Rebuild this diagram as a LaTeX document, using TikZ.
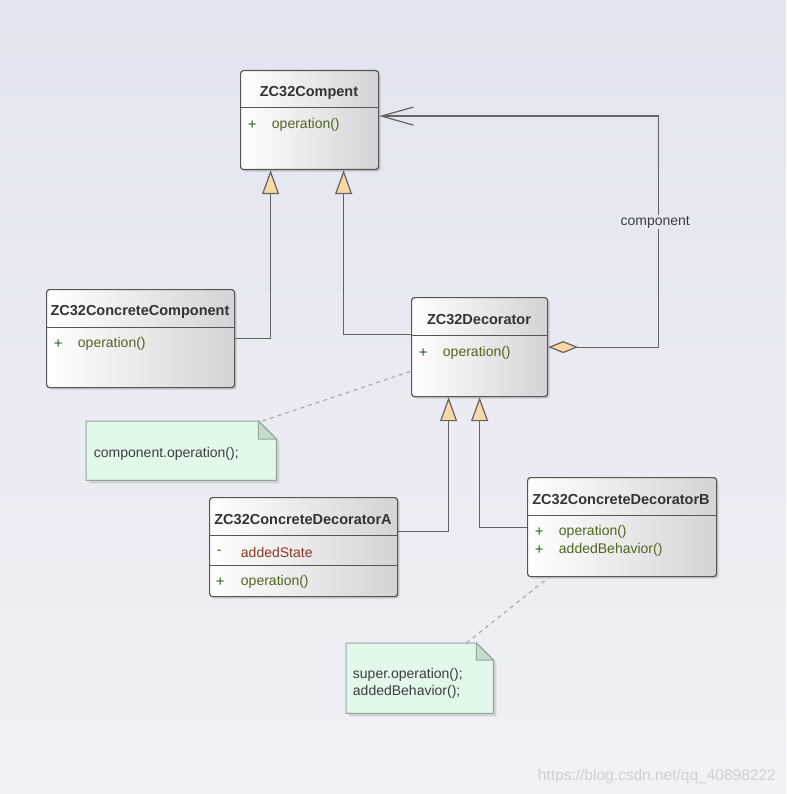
\documentclass[tikz,border=0pt]{standalone}
\usepackage{fontspec}
\setmainfont{Liberation Sans}
\usetikzlibrary{calc,arrows.meta,shadows}
\definecolor{bgtop}{RGB}{226,228,239}
\definecolor{bgbot}{RGB}{241,241,246}
\definecolor{bgmid}{RGB}{231,233,242}
\definecolor{boxline}{RGB}{85,85,85}
\definecolor{boxgray}{RGB}{212,212,214}
\definecolor{linegray}{RGB}{100,100,100}
\definecolor{tipfill}{RGB}{249,216,166}
\definecolor{notefill}{RGB}{226,248,232}
\definecolor{foldfill}{RGB}{196,220,204}
\definecolor{noteline}{RGB}{150,165,155}
\definecolor{titletext}{RGB}{51,51,51}
\definecolor{vistext}{RGB}{40,100,40}
\definecolor{optext}{RGB}{80,100,30}
\definecolor{attrtext}{RGB}{140,55,35}
\definecolor{notetext}{RGB}{60,60,66}
\definecolor{marktext}{RGB}{206,208,216}

\begin{document}
\begin{tikzpicture}[x=1pt,y=1pt,yscale=-1,xscale=1,
  classbox/.style={draw=boxline,line width=1.2pt,rounded corners=3pt,left color=white,right color=boxgray,anchor=north west,inner sep=0pt,drop shadow={shadow xshift=2pt,shadow yshift=-2pt,opacity=0.3}},
  sepline/.style={draw=boxline,line width=1pt},
  ctitle/.style={text=titletext,font=\fontsize{14.5}{17}\selectfont\bfseries,inner sep=0.75pt},
  cvis/.style={anchor=west,text=vistext,font=\fontsize{15}{17}\selectfont,inner sep=0.75pt},
  cop/.style={anchor=west,text=optext,font=\fontsize{14}{17}\selectfont,inner sep=0.75pt},
  cattr/.style={anchor=west,text=attrtext,font=\fontsize{14}{17}\selectfont,inner sep=0.75pt},
  noteframe/.style={anchor=north west,inner sep=0pt},
  notebody/.style={fill=notefill,draw=noteline,line width=1pt,drop shadow={shadow xshift=3pt,shadow yshift=-3pt,opacity=0.25}},
  notefold/.style={fill=foldfill,draw=noteline,line width=1pt},
  ntext/.style={anchor=west,align=left,text=notetext,font=\fontsize{14}{17}\selectfont,inner sep=0.75pt},
  notelink/.style={draw=gray!65,line width=1.2pt,dash pattern=on 4pt off 4pt},
  gen/.style={draw=linegray,line width=1.2pt,-{Triangle[length=24pt,width=17pt,fill=tipfill]}},
  agg/.style={draw=linegray,line width=1.2pt,{Diamond[length=30pt,width=12pt,fill=tipfill]}-{Straight Barb[length=32pt,width=18pt]}},
  rolelabel/.style={fill=bgmid,text=notetext,font=\fontsize{14}{17}\selectfont,inner sep=1pt,xshift=-3pt}]
%background
\shade[top color=bgtop,bottom color=bgbot] (0,0) rectangle (786,794);
\path[use as bounding box] (0,0) rectangle (786,794);

%Class [ZC32Compent]
\node[classbox,minimum width=138pt,minimum height=99pt] (comp) at (240,70) {};
\draw[sepline] ($(comp.north west)+(0,38)$) -- ($(comp.north east)+(0,38)$);
%Class [ZC32ConcreteComponent]
\node[classbox,minimum width=188pt,minimum height=98pt] (ccomp) at (46,289) {};
\draw[sepline] ($(ccomp.north west)+(0,38)$) -- ($(ccomp.north east)+(0,38)$);
%Class [ZC32Decorator]
\node[classbox,minimum width=136pt,minimum height=99pt] (dec) at (411,297) {};
\draw[sepline] ($(dec.north west)+(0,38)$) -- ($(dec.north east)+(0,38)$);
%Class [ZC32ConcreteDecoratorA]
\node[classbox,minimum width=188pt,minimum height=99pt] (decA) at (209,497) {};
\draw[sepline] ($(decA.north west)+(0,38)$) -- ($(decA.north east)+(0,38)$);
\draw[sepline] ($(decA.north west)+(0,68)$) -- ($(decA.north east)+(0,68)$);
%Class [ZC32ConcreteDecoratorB]
\node[classbox,minimum width=189pt,minimum height=99pt] (decB) at (527,477) {};
\draw[sepline] ($(decB.north west)+(0,38)$) -- ($(decB.north east)+(0,38)$);

%Note [component.operation]
\node[noteframe,minimum width=190pt,minimum height=59pt] (noteA) at (86,421) {};
\draw[notebody] (noteA.north west) -- ($(noteA.north east)+(-18,0)$) -- ($(noteA.north east)+(0,18)$) -- (noteA.south east) -- (noteA.south west) -- cycle;
\draw[notefold] ($(noteA.north east)+(-18,0)$) -- ($(noteA.north east)+(-18,18)$) -- ($(noteA.north east)+(0,18)$) -- cycle;
%Note [super.operation]
\node[noteframe,minimum width=147pt,minimum height=70pt] (noteB) at (346,643) {};
\draw[notebody] (noteB.north west) -- ($(noteB.north east)+(-17,0)$) -- ($(noteB.north east)+(0,17)$) -- (noteB.south east) -- (noteB.south west) -- cycle;
\draw[notefold] ($(noteB.north east)+(-17,0)$) -- ($(noteB.north east)+(-17,17)$) -- ($(noteB.north east)+(0,17)$) -- cycle;

%Generalization
\draw[gen] (ccomp.east) -| ($(comp.south)+(-39,0)$);
\draw[gen] ($(dec.west)+(0,-13)$) -| ($(comp.south)+(34,0)$);
\draw[gen] ($(decA.east)+(0,-16)$) -| ($(dec.south)+(-31,0)$);
\draw[gen] (decB.west) -| (dec.south);
%Aggregation
\draw[agg] (dec.east) -- ++(110,0) |- node[pos=0.27,rolelabel] (role) {component} ($(comp.east)+(0,-4)$);
%Note links
\draw[notelink] ($(noteA.north east)+(-14,0)$) -- ($(dec.south west)+(0,-26)$);
\draw[notelink] ($(noteB.north east)+(-27,0)$) -- ($(decB.south west)+(22,0)$);

% Text Node
\draw (309,93) node[ctitle] (compname) {ZC32Compent};
% Text Node
\draw (247,125) node[cvis] (compvis) {+};
% Text Node
\draw (271,125) node[cop] (compop) {operation()};
% Text Node
\draw (140,312) node[ctitle] (ccompname) {ZC32ConcreteComponent};
% Text Node
\draw (53,344) node[cvis] (ccompvis) {+};
% Text Node
\draw (77,344) node[cop] (ccompop) {operation()};
% Text Node
\draw (479,320) node[ctitle] (decname) {ZC32Decorator};
% Text Node
\draw (418,353) node[cvis] (decvis) {+};
% Text Node
\draw (442,353) node[cop] (decop) {operation()};
% Text Node
\draw (303,520) node[ctitle] (decAname) {ZC32ConcreteDecoratorA};
% Text Node
\draw (216,552) node[cattr] (decAvisa) {-};
% Text Node
\draw (240,552) node[cattr] (decAattr) {addedState};
% Text Node
\draw (215,582) node[cvis] (decAvis) {+};
% Text Node
\draw (240,582) node[cop] (decAop) {operation()};
% Text Node
\draw (621,500) node[ctitle] (decBname) {ZC32ConcreteDecoratorB};
% Text Node
\draw (534,532) node[cvis] (decBvis) {+};
% Text Node
\draw (558,532) node[cop] (decBop) {operation()};
% Text Node
\draw (534,550) node[cvis] (decBvisb) {+};
% Text Node
\draw (558,550) node[cop] (decBbeh) {addedBehavior()};
% Text Node
\draw (93,454) node[ntext] (noteAtext) {component.operation();};
% Text Node
\draw (352,683) node[ntext] (noteBtext) {super.operation();\\addedBehavior();};
% Text Node
\draw (776,776) node[anchor=east,text=marktext,font=\fontsize{15.5}{18}\selectfont,inner sep=0pt] (mark) {https://blog.csdn.net/qq\_40898222};
\end{tikzpicture}
\end{document}
